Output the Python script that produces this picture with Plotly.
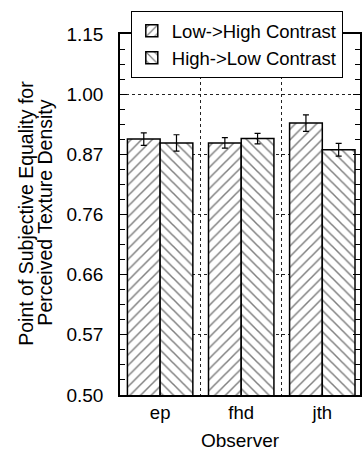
import math
import plotly.graph_objects as go

observers = ["ep", "fhd", "jth"]
series_names = ["Low->High Contrast", "High->Low Contrast"]
low_high = [0.901, 0.893, 0.935]
low_high_err = [0.013, 0.011, 0.018]
high_low = [0.893, 0.902, 0.879]
high_low_err = [0.017, 0.011, 0.013]
y_tick_labels = ["1.15", "1.00", "0.87", "0.76", "0.66", "0.57", "0.50"]
y_title_lines = ["Point of Subjective Equality for", "Perceived Texture Density"]
x_title = "Observer"

base = 1.15
exps = [1, 0, -1, -2, -3, -4, -5]
y_tick_vals = [base ** e for e in exps]
minor_vals = [base ** (e + j / 4) for e in range(-5, 1) for j in (1, 2, 3)]

FONT = "Liberation Sans, Arial, Helvetica, sans-serif"

fig = go.Figure()
for name, vals, errs, shape in [
    (series_names[0], low_high, low_high_err, "/"),
    (series_names[1], high_low, high_low_err, "\\"),
]:
    fig.add_trace(go.Bar(
        x=observers, y=vals, name=name,
        marker=dict(color="white", line=dict(color="black", width=1.5),
                    pattern=dict(shape=shape, fgcolor="black", bgcolor="white",
                                 size=7.5, solidity=0.2, fillmode="overlay")),
        error_y=dict(type="data", array=errs, color="black", thickness=1.2, width=3),
    ))

fig.update_layout(
    width=362, height=453,
    margin=dict(l=120, r=0, t=34, b=58),
    paper_bgcolor="white", plot_bgcolor="white",
    barmode="group", bargap=0.193, bargroupgap=0,
    font=dict(family=FONT, size=18, color="black"),
    showlegend=True,
    legend=dict(x=0.045, y=1.063, xanchor="left", yanchor="top",
                bgcolor="white", bordercolor="black", borderwidth=1,
                font=dict(size=18.5), tracegroupgap=0, itemwidth=30),
    xaxis=dict(
        range=[-0.495, 2.465], tickson="boundaries", ticks="",
        showgrid=True, gridcolor="#222", griddash="dot", gridwidth=1,
        showline=True, linecolor="black", linewidth=1.5, mirror=True,
        title=dict(text=x_title, standoff=12, font=dict(size=19)),
        tickfont=dict(size=18.5),
    ),
    yaxis=dict(
        type="log",
        range=[math.log10(base ** -5), math.log10(base ** 1)],
        tickmode="array", tickvals=y_tick_vals, ticktext=y_tick_labels,
        ticks="inside", ticklen=7, tickwidth=1, tickcolor="black",
        minor=dict(tickmode="array", tickvals=minor_vals, ticks="inside",
                   ticklen=5, tickcolor="black", showgrid=False),
        showgrid=True, gridcolor="#222", griddash="dot", gridwidth=1,
        showline=True, linecolor="black", linewidth=1.5, mirror="ticks",
        ticklabelstandoff=11,
        tickfont=dict(size=19),
    ),
    annotations=[
        dict(text=y_title_lines[0], xref="paper", yref="paper",
             x=-120 / 242 + 25 / 242, y=(395 - 213) / 361,
             xanchor="center", yanchor="middle", textangle=-90,
             showarrow=False, font=dict(size=19.5)),
        dict(text=y_title_lines[1], xref="paper", yref="paper",
             x=-120 / 242 + 44 / 242, y=(395 - 213) / 361,
             xanchor="center", yanchor="middle", textangle=-90,
             showarrow=False, font=dict(size=19.5)),
    ],
)

fig.write_html("out.html")
